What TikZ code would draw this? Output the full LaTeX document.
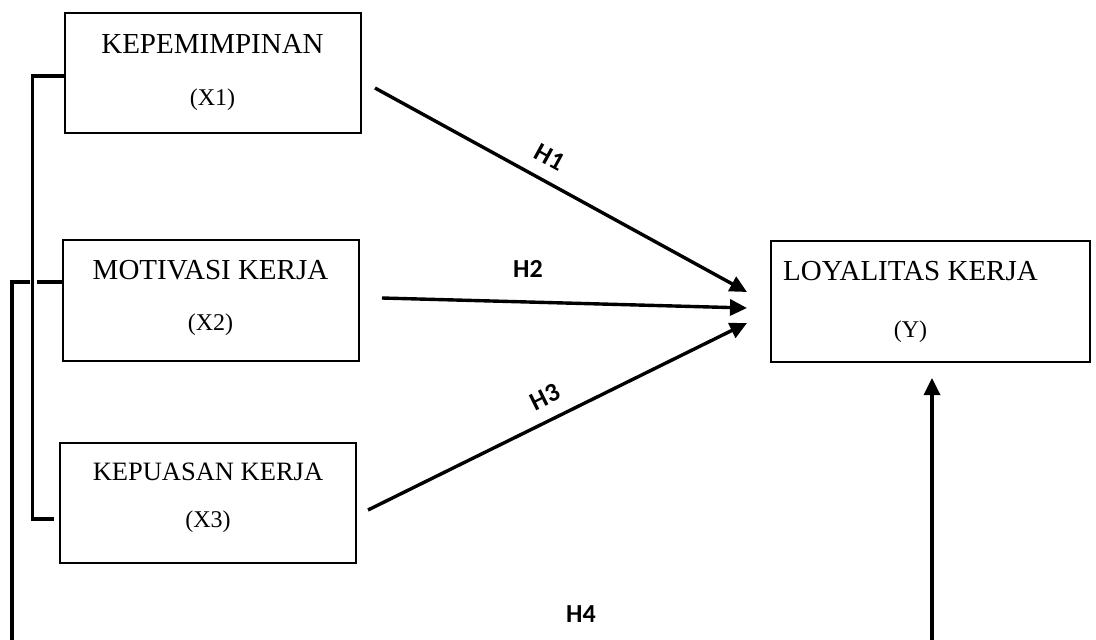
\documentclass[tikz,border=0pt]{standalone}
\usepackage{fontspec}
\setmainfont{Liberation Serif}
\newfontfamily\labfont{Carlito}
\usetikzlibrary{arrows.meta}
\begin{document}
\begin{tikzpicture}[x=1pt,y=-1pt,
  box/.style={draw,line width=2pt,inner sep=0pt},
  ttl/.style={anchor=base,inner sep=0pt,font=\fontsize{29}{30}\selectfont},
  ttlsm/.style={anchor=base,inner sep=0pt,font=\fontsize{26.5}{28}\selectfont},
  sub/.style={anchor=base,inner sep=0pt,font=\fontsize{24}{26}\selectfont},
  hlab/.style={inner sep=0pt,font=\labfont\bfseries\fontsize{26}{28}\selectfont},
  br/.style={line width=3.4pt},
  arr/.style={line width=3.4pt,-{Triangle[length=17pt,width=16pt]}}]
\useasboundingbox (0,0) rectangle (1096,640);

% boxes
\node[box,minimum width=296pt,minimum height=120pt] (x1) at (213,73) {};
\node[box,minimum width=296pt,minimum height=121pt] (x2) at (211,300.5) {};
\node[box,minimum width=296pt,minimum height=120pt] (x3) at (208,503) {};
\node[box,minimum width=319pt,minimum height=121pt] (y) at (930.5,301.5) {};

% texts
\node[ttl] (x1t) at (212.5,53) {KEPEMIMPINAN};
\node[sub] (x1l) at (212.5,105) {(X1)};
\node[ttl] (x2t) at (210.5,279) {MOTIVASI KERJA};
\node[sub] (x2l) at (210.5,330) {(X2)};
\node[ttlsm] (x3t) at (208,480) {KEPUASAN KERJA};
\node[sub] (x3l) at (208,527) {(X3)};
\node[ttl] (yt) at (910.5,280) {LOYALITAS KERJA};
\node[sub] (yl) at (910.5,337) {(Y)};

% bracket lines on the left
\coordinate (b1) at (65,76);
\coordinate (b1v) at (32.5,76);
\coordinate (b3v) at (32.5,519);
\coordinate (b3) at (54,519);
\coordinate (b2a) at (37,282);
\coordinate (b2b) at (63,282);
\coordinate (o1) at (30,282);
\coordinate (o2) at (12,282);
\coordinate (o3) at (12,641);
\draw[br] (b1) -- (b1v) -- (b3v) -- (b3);
\draw[br] (b2a) -- (b2b);
\draw[br] (o1) -- (o2) -- (o3);

% arrows
\coordinate (h1s) at (375,88);  \coordinate (h1e) at (747,292);
\coordinate (h2s) at (382,298); \coordinate (h2e) at (747,308);
\coordinate (h3s) at (368,510); \coordinate (h3e) at (747,323);
\coordinate (h4s) at (932,641); \coordinate (h4e) at (932,378);
\draw[arr] (h1s) -- (h1e);
\draw[arr] (h2s) -- (h2e);
\draw[arr] (h3s) -- (h3e);
\draw[arr] (h4s) -- (h4e);

% labels
\node[hlab,rotate=-28.7] (lh1) at (550,157) {H1};
\node[hlab] (lh2) at (528,269) {H2};
\node[hlab,rotate=26.5] (lh3) at (545,397) {H3};
\node[hlab] (lh4) at (581,614) {H4};
\end{tikzpicture}
\end{document}
